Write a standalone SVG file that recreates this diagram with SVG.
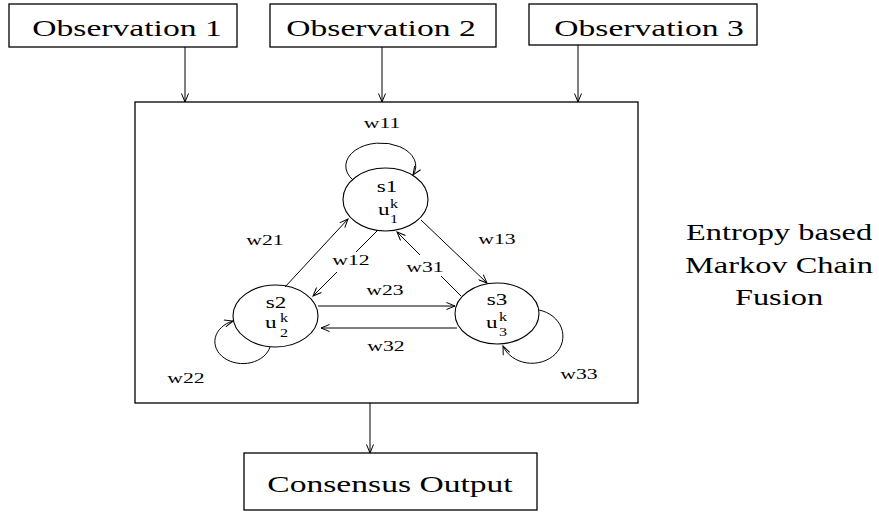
<svg xmlns="http://www.w3.org/2000/svg" width="879" height="513" viewBox="0 0 879 513">
  <style>
    .box { fill: #fff; stroke: #000; stroke-width: 1.3; }
    .st  { fill: #fff; stroke: #000; stroke-width: 1.1; }
    .ln  { fill: none; stroke: #000; stroke-width: 1; }
    .t   { font-family: "Liberation Serif", "Times New Roman", serif; fill: #000; }
    .big { font-size: 24px; }
    .lbl { font-size: 15.5px; }
    .nm  { font-size: 16.5px; }
    .sm  { font-size: 11.5px; }
  </style>
  <defs>
    <marker id="ah" markerWidth="10" markerHeight="8" refX="9" refY="4" orient="auto" markerUnits="userSpaceOnUse">
      <path d="M0.5,0.5 L9,4 L0.5,7.5" fill="none" stroke="#000" stroke-width="1"/>
    </marker>
  </defs>
  <rect width="879" height="513" fill="#fff"/>

  <!-- input observations -->
  <g id="obs1">
    <rect class="box" x="9" y="4" width="228" height="43"/>
    <text class="t big" text-anchor="middle" transform="translate(127 36) scale(1.4 1)">Observation 1</text>
  </g>
  <g id="obs2">
    <rect class="box" x="270" y="4" width="226" height="43"/>
    <text class="t big" text-anchor="middle" transform="translate(381 36) scale(1.4 1)">Observation 2</text>
  </g>
  <g id="obs3">
    <rect class="box" x="529" y="4" width="228" height="41"/>
    <text class="t big" text-anchor="middle" transform="translate(649 36) scale(1.4 1)">Observation 3</text>
  </g>

  <!-- fusion block -->
  <g id="fusion">
    <rect class="box" x="135" y="102" width="503" height="301"/>
    <text class="t big" text-anchor="middle" transform="translate(779 240) scale(1.35 1)">Entropy based</text>
    <text class="t big" text-anchor="middle" transform="translate(779 273) scale(1.35 1)">Markov Chain</text>
    <text class="t big" text-anchor="middle" transform="translate(779 305) scale(1.35 1)">Fusion</text>
  </g>

  <!-- states -->
  <g id="s1">
    <ellipse class="st" cx="385.5" cy="199.5" rx="42.5" ry="31.5"/>
    <text class="t nm" text-anchor="middle" transform="translate(387 192) scale(1.4 1)">s1</text>
    <text class="t nm" transform="translate(378 215) scale(1.4 1)">u</text>
    <text class="t sm" transform="translate(390 208) scale(1.4 1)">k</text>
    <text class="t sm" transform="translate(390 223) scale(1.4 1)">1</text>
  </g>
  <g id="s2">
    <ellipse class="st" cx="275.5" cy="316" rx="42.5" ry="31"/>
    <text class="t nm" text-anchor="middle" transform="translate(276 308) scale(1.4 1)">s2</text>
    <text class="t nm" transform="translate(265 328) scale(1.4 1)">u</text>
    <text class="t sm" transform="translate(280 322) scale(1.4 1)">k</text>
    <text class="t sm" transform="translate(280 337) scale(1.4 1)">2</text>
  </g>
  <g id="s3">
    <ellipse class="st" cx="497" cy="313.5" rx="42" ry="30.5"/>
    <text class="t nm" text-anchor="middle" transform="translate(497 305) scale(1.4 1)">s3</text>
    <text class="t nm" transform="translate(486 328) scale(1.4 1)">u</text>
    <text class="t sm" transform="translate(499 321) scale(1.4 1)">k</text>
    <text class="t sm" transform="translate(499 336) scale(1.4 1)">3</text>
  </g>

  <!-- output -->
  <g id="output">
    <rect class="box" x="244" y="453" width="293" height="57"/>
    <text class="t big" text-anchor="middle" transform="translate(390 492) scale(1.4 1)">Consensus Output</text>
  </g>

  <!-- connectors -->
  <g id="connectors">
    <line class="ln" x1="185" y1="47" x2="185" y2="102" marker-end="url(#ah)"/>
    <line class="ln" x1="382" y1="47" x2="382" y2="102" marker-end="url(#ah)"/>
    <line class="ln" x1="578" y1="45" x2="578" y2="102" marker-end="url(#ah)"/>
    <line class="ln" x1="370" y1="403" x2="370" y2="453" marker-end="url(#ah)"/>

    <!-- self transitions -->
    <path class="ln" d="M353 180 A35 23 0 1 1 413 175" marker-end="url(#ah)"/>
    <path class="ln" d="M270 347 A28 22 0 1 1 233 321" marker-end="url(#ah)"/>
    <path class="ln" d="M539 310 A31 27 0 1 1 503 346" marker-end="url(#ah)"/>

    <!-- transitions between states -->
    <line class="ln" x1="285" y1="287" x2="348" y2="219" marker-end="url(#ah)"/>
    <line class="ln" x1="377" y1="231" x2="356" y2="252"/>
    <line class="ln" x1="337" y1="272" x2="313" y2="296" marker-end="url(#ah)"/>
    <line class="ln" x1="421" y1="220" x2="487" y2="283" marker-end="url(#ah)"/>
    <line class="ln" x1="461" y1="296" x2="441" y2="276"/>
    <line class="ln" x1="420" y1="255" x2="397" y2="232" marker-end="url(#ah)"/>
    <line class="ln" x1="318" y1="306" x2="455" y2="306" marker-end="url(#ah)"/>
    <line class="ln" x1="457" y1="328" x2="321" y2="328" marker-end="url(#ah)"/>

    <!-- transition weights -->
    <text class="t lbl" text-anchor="middle" transform="translate(382 128) scale(1.4 1)">w11</text>
    <text class="t lbl" text-anchor="middle" transform="translate(265 245) scale(1.4 1)">w21</text>
    <text class="t lbl" text-anchor="middle" transform="translate(351 265) scale(1.4 1)">w12</text>
    <text class="t lbl" text-anchor="middle" transform="translate(425 272) scale(1.4 1)">w31</text>
    <text class="t lbl" text-anchor="middle" transform="translate(497 244) scale(1.4 1)">w13</text>
    <text class="t lbl" text-anchor="middle" transform="translate(385 295) scale(1.4 1)">w23</text>
    <text class="t lbl" text-anchor="middle" transform="translate(386 351) scale(1.4 1)">w32</text>
    <text class="t lbl" text-anchor="middle" transform="translate(186 383) scale(1.4 1)">w22</text>
    <text class="t lbl" text-anchor="middle" transform="translate(579 379) scale(1.4 1)">w33</text>
  </g>
</svg>
